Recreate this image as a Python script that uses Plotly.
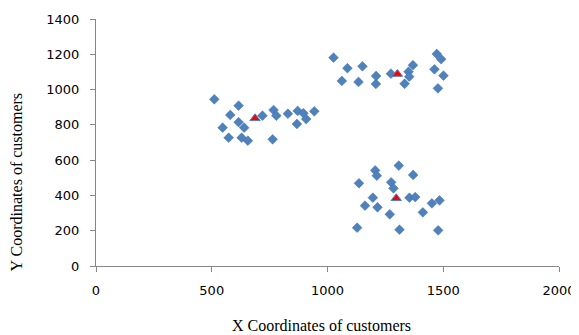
import plotly.graph_objects as go

# Customers (x, y)
cust_x = [511, 616, 580, 719, 767, 779, 829, 871, 896, 908, 943, 868, 616, 547, 640, 573, 629, 656, 763,
          1026, 1086, 1151, 1062, 1134, 1210, 1209, 1274, 1350, 1353, 1369, 1333, 1472, 1491, 1462, 1501, 1477,
          1308, 1206, 1213, 1370, 1136, 1275, 1285, 1196, 1354, 1379, 1451, 1484, 1162, 1216, 1412, 1269, 1128, 1311, 1478]
cust_y = [945, 909, 856, 852, 884, 852, 863, 879, 866, 833, 877, 805, 815, 784, 784, 727, 727, 710, 718,
          1181, 1121, 1132, 1049, 1043, 1077, 1032, 1090, 1101, 1073, 1138, 1033, 1202, 1172, 1115, 1079, 1007,
          569, 542, 512, 516, 469, 474, 440, 387, 387, 391, 355, 372, 342, 333, 304, 293, 217, 206, 202]

# Cluster centres
cent_x = [687, 1302, 1297]
cent_y = [837, 1088, 384]

x_ticks = [0, 500, 1000, 1500, 2000]
y_ticks = [0, 200, 400, 600, 800, 1000, 1200, 1400]

fig = go.Figure()
fig.add_trace(go.Scatter(x=cust_x, y=cust_y, mode="markers",
                         marker=dict(symbol="diamond", size=7.5, color="#4F81BD",
                                     line=dict(width=0.5, color="#3f70ad"))))
fig.add_trace(go.Scatter(x=cent_x, y=cent_y, mode="markers",
                         marker=dict(symbol="triangle-up", size=9, color="#FF0000",
                                     line=dict(width=1, color="#4F81BD"))))

axis_common = dict(showgrid=False, zeroline=False, showline=True, linecolor="#868686", linewidth=1,
                   ticks="outside", ticklen=5, tickcolor="#868686", automargin=False,
                   tickfont=dict(family="DejaVu Sans", size=13, color="#000000"))

title_font = dict(family="Liberation Serif", size=16, color="#000000")

# page body has an 8px default margin, so the figure is sized to fit the window
fig.update_layout(
    width=571, height=327,
    margin=dict(l=88, r=20, t=11, b=69),
    paper_bgcolor="white", plot_bgcolor="white",
    showlegend=False,
    xaxis=dict(range=[0, 2000], tickvals=x_ticks, ticklabelstandoff=7, **axis_common),
    yaxis=dict(range=[0, 1400], tickvals=y_ticks, ticklabelstandoff=8, **axis_common),
    annotations=[
        dict(text="X Coordinates of customers", xref="paper", yref="paper",
             x=0.488, y=-0.239, xanchor="center", yanchor="middle", showarrow=False, font=title_font),
        dict(text="Y Coordinates of customers", xref="paper", yref="paper",
             x=-0.172, y=0.34, xanchor="center", yanchor="middle", textangle=-90,
             showarrow=False, font=title_font),
    ],
)

fig.write_html("out.html")
